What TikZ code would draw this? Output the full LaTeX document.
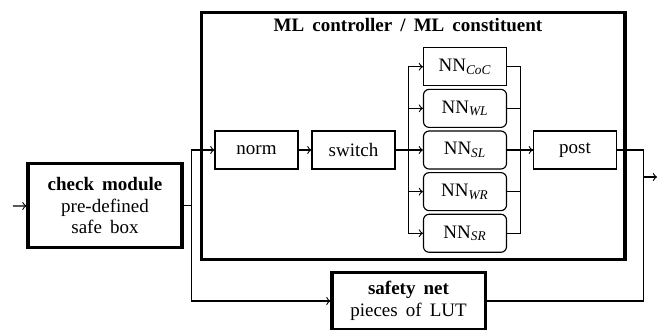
\documentclass[tikz,border=0pt]{standalone}
\usepackage{fontspec}
\setmainfont{Liberation Serif}[WordSpace={1.7,1.5,1}]
\usepackage{tikz}
\usetikzlibrary{positioning}

\newcommand{\nnsub}[1]{NN\textsubscript{\itshape #1}}

\begin{document}
\begin{tikzpicture}[x=0.526pt, y=-0.526pt, font=\fontsize{10}{11.5}\selectfont,
    line width=0.6pt, >=to,
    block/.style = {draw, inner sep=0pt, minimum width=43.7pt, minimum height=20pt},
    rblock/.style = {block, rounded corners=3pt},
    bigblock/.style = {draw, line width=1.6pt, inner sep=0pt, align=center}]
        \useasboundingbox (0,0) rectangle (670,329);

        \node (ml) [bigblock, minimum width=223pt, minimum height=130.4pt] at (413,136) {};
        \node (title) at (408,25) {\textbf{ML controller / ML constituent}};

        \node (check) [bigblock, minimum width=81pt, minimum height=43.7pt] at (105,205.5)
            {\textbf{check module}\\pre-defined\\safe box};
        \node (norm) [block] at (256.5,150) {norm};
        \node (switch) [block] at (353.5,150) {switch};
        \node (nnsl) [rblock] at (465,150) {\nnsub{SL}};
        \node (nnwl) [rblock, above=1.3pt of nnsl] {\nnsub{WL}};
        \node (nncoc) [block, above=1.3pt of nnwl] {\nnsub{CoC}};
        \node (nnwr) [rblock, below=1.3pt of nnsl] {\nnsub{WR}};
        \node (nnsr) [rblock, below=1.3pt of nnwr] {\nnsub{SR}};
        \node (post) [block] at (575,150) {post};
        \node (safety) [bigblock, minimum width=80.5pt, minimum height=29.5pt] at (408.5,301)
            {\textbf{safety net}\\pieces of LUT};

        \coordinate (in) at (13,206);
        \coordinate (j) at (643,177);
        \coordinate (out) at (657,177);

        \draw[->] (in) -- (check);
        \draw[->] (check.east) -- ++(8,0) |- (norm.west);
        \draw[->] (check.east) -- ++(8,0) |- (safety.west);
        \draw[->] (norm) -- (switch);
        \foreach \n in {nncoc,nnwl,nnsl,nnwr,nnsr} {
            \draw[->] (switch.east) -- ++(13,0) |- (\n.west);
            \draw (\n.east) -- ++(13,0) |- (post.west);
        }
        \draw[->] (nnsl.east) -- (post.west);
        \draw (post.east) -- ++(26,0) |- (safety.east);
        \draw[->] (j) -- (out);
        % outputs of post and safety net meet at j
      \end{tikzpicture}
\end{document}
